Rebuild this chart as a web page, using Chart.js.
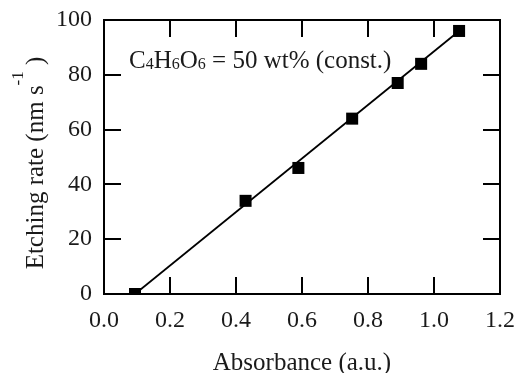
<!DOCTYPE html>
<html>
<head>
<meta charset="utf-8">
<script src="https://cdn.jsdelivr.net/npm/chart.js@4/dist/chart.umd.min.js"></script>
<style>
html,body{margin:0;padding:0;background:#fff;}
#wrap{width:516px;height:373px;position:relative;}
</style>
</head>
<body>
<div id="wrap"><canvas id="c" width="516" height="373"></canvas></div>
<script>
// ---- data ----
const absorbance = [0.094, 0.429, 0.589, 0.752, 0.890, 0.961, 1.076];
const etchingRate = [0, 34, 46, 64, 77, 84, 96];
const fitX = [0.094, 1.076];
const fitY = [0, 96];
const xTicks = [0.0, 0.2, 0.4, 0.6, 0.8, 1.0, 1.2];
const yTicks = [0, 20, 40, 60, 80, 100];
const xTitle = 'Absorbance (a.u.)';
const yTitleMain = 'Etching rate (nm s';
const yTitleSup = '-1';
const yTitleEnd = ' )';
const annotParts = [['C', false], ['4', true], ['H', false], ['6', true], ['O', false], ['6', true], [' = 50 wt% (const.)', false]];

const SERIF = '"Liberation Serif", "Times New Roman", serif';
const TXT = '#1a1a1a';

const framePlugin = {
  id: 'frame',
  afterDraw(chart) {
    const ctx = chart.ctx;
    const a = chart.chartArea;
    const xs = chart.scales.x, ys = chart.scales.y;
    ctx.save();
    ctx.strokeStyle = '#000';
    ctx.lineWidth = 2;
    ctx.strokeRect(a.left, a.top, a.right - a.left, a.bottom - a.top);
    const tl = 17;
    ctx.beginPath();
    xTicks.forEach(v => {
      if (v === xTicks[0] || v === xTicks[xTicks.length - 1]) return;
      const px = Math.round(xs.getPixelForValue(v));
      ctx.moveTo(px, a.bottom); ctx.lineTo(px, a.bottom - tl);
      ctx.moveTo(px, a.top); ctx.lineTo(px, a.top + tl);
    });
    yTicks.forEach(v => {
      if (v === yTicks[0] || v === yTicks[yTicks.length - 1]) return;
      const py = Math.round(ys.getPixelForValue(v));
      ctx.moveTo(a.left, py); ctx.lineTo(a.left + tl, py);
      ctx.moveTo(a.right, py); ctx.lineTo(a.right - tl, py);
    });
    ctx.stroke();

    // x title
    ctx.fillStyle = TXT;
    ctx.font = '25px ' + SERIF;
    ctx.textAlign = 'center';
    ctx.textBaseline = 'alphabetic';
    ctx.fillText(xTitle, (a.left + a.right) / 2, 370);

    // y title (rotated, with superscript)
    ctx.save();
    ctx.translate(43, 163);
    ctx.rotate(-Math.PI / 2);
    ctx.font = '25px ' + SERIF;
    const w1 = ctx.measureText(yTitleMain).width;
    const w3 = ctx.measureText(yTitleEnd).width;
    ctx.font = '17px ' + SERIF;
    const w2 = ctx.measureText(yTitleSup).width;
    const total = w1 + w2 + w3;
    let x0 = -total / 2;
    ctx.textAlign = 'left';
    ctx.font = '25px ' + SERIF;
    ctx.fillText(yTitleMain, x0, 0);
    ctx.font = '17px ' + SERIF;
    ctx.fillText(yTitleSup, x0 + w1, -20);
    ctx.font = '25px ' + SERIF;
    ctx.fillText(yTitleEnd, x0 + w1 + w2, 0);
    ctx.restore();

    // annotation
    let ax = 129;
    const ay = 68;
    ctx.textAlign = 'left';
    annotParts.forEach(([t, sub]) => {
      ctx.font = (sub ? '16px ' : '25px ') + SERIF;
      ctx.fillText(t, ax, sub ? ay + 1 : ay);
      ax += ctx.measureText(t).width;
    });
    ctx.restore();
  }
};

new Chart(document.getElementById('c'), {
  type: 'scatter',
  data: {
    datasets: [
      {
        label: 'fit',
        data: fitX.map((x, i) => ({x: x, y: fitY[i]})),
        showLine: true,
        borderColor: '#000',
        borderWidth: 1.8,
        pointRadius: 0,
        order: 2
      },
      {
        label: 'data',
        data: absorbance.map((x, i) => ({x: x, y: etchingRate[i]})),
        showLine: false,
        pointStyle: 'rect',
        pointRadius: 8.5,
        backgroundColor: '#000',
        borderColor: '#000',
        borderWidth: 0,
        order: 1
      }
    ]
  },
  options: {
    responsive: false,
    animation: false,
    layout: {padding: {left: 0, right: 16, top: 20, bottom: 0}},
    plugins: {legend: {display: false}, tooltip: {enabled: false}},
    scales: {
      x: {
        type: 'linear', min: 0, max: 1.2,
        afterBuildTicks: s => { s.ticks = xTicks.map(v => ({value: v})); },
        afterFit: s => { s.height = 79; s.paddingLeft = 0; s.paddingRight = 0; },
        grid: {display: false, drawTicks: false},
        border: {display: false},
        ticks: {
          padding: 12,
          color: TXT,
          font: {family: SERIF, size: 24},
          maxRotation: 0,
          callback: v => Number(v).toFixed(1)
        }
      },
      y: {
        type: 'linear', min: 0, max: 100,
        afterBuildTicks: s => { s.ticks = yTicks.map(v => ({value: v})); },
        afterFit: s => { s.width = 104; s.paddingTop = 0; s.paddingBottom = 0; },
        grid: {display: false, drawTicks: false},
        border: {display: false},
        ticks: {
          padding: 12,
          color: TXT,
          font: {family: SERIF, size: 24},
          callback: v => String(v)
        }
      }
    }
  },
  plugins: [framePlugin]
});
</script>
</body>
</html>
